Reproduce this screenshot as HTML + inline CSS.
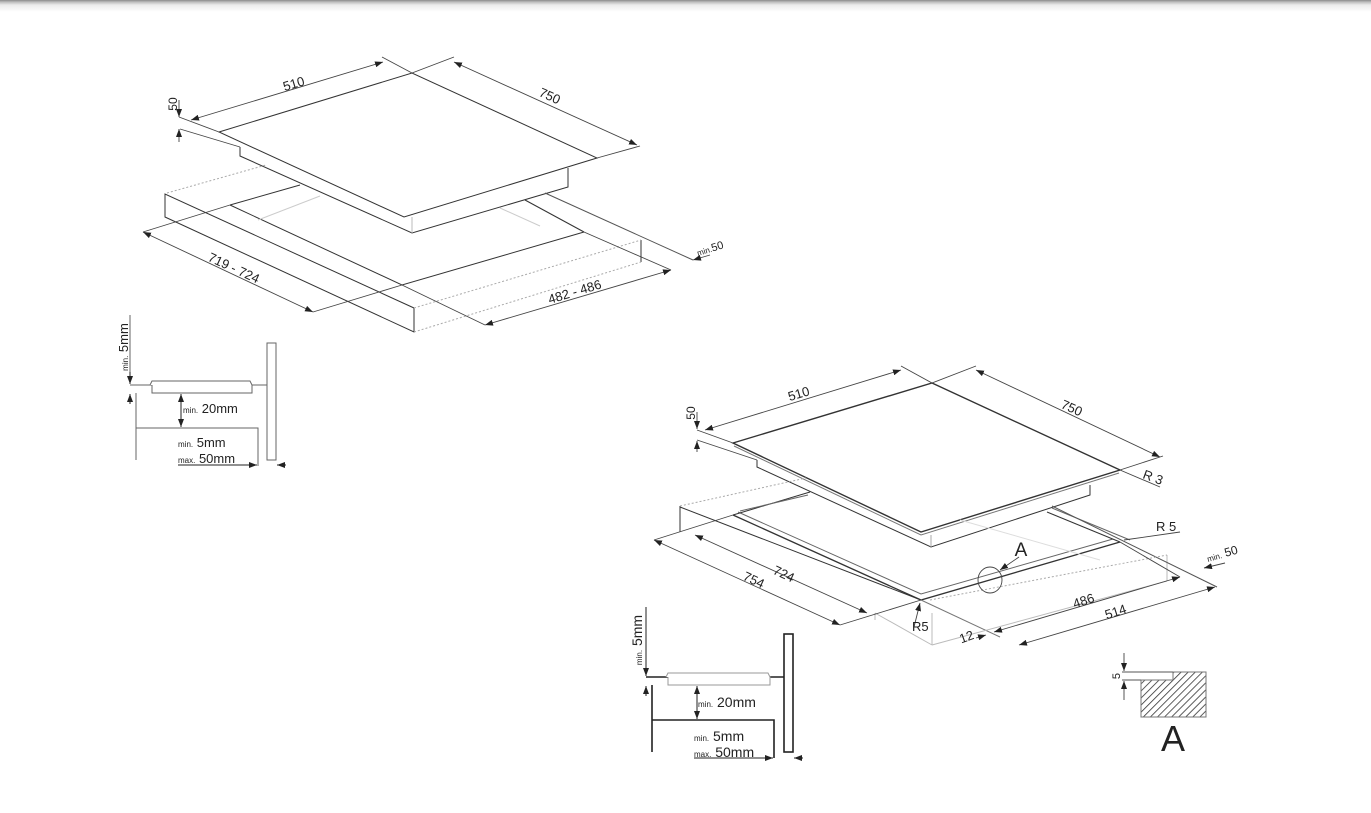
<!DOCTYPE html>
<html><head><meta charset="utf-8"><style>
html,body{margin:0;padding:0;background:#fff;width:1371px;height:813px;overflow:hidden}
.bar{position:absolute;left:0;top:0;width:1371px;height:12px;background:linear-gradient(#8a8a8a 0,#bdbdbd 2px,#ececec 5px,#fff 12px)}
svg{position:absolute;left:0;top:0}
text{font-family:"Liberation Sans",sans-serif;fill:#222}
</style></head><body>
<div class="bar"></div>
<svg width="1371" height="813" viewBox="0 0 1371 813">
<defs>
<marker id="a" markerWidth="8" markerHeight="6" refX="8" refY="3" orient="auto" markerUnits="userSpaceOnUse"><path d="M0,0 L8,3 L0,6z" fill="#222"/></marker>
<marker id="b" markerWidth="8" markerHeight="6" refX="0" refY="3" orient="auto" markerUnits="userSpaceOnUse"><path d="M8,0 L0,3 L8,6z" fill="#222"/></marker>
<pattern id="h" width="5" height="5" patternUnits="userSpaceOnUse" patternTransform="rotate(45)"><line x1="0" y1="0" x2="0" y2="5" stroke="#333" stroke-width="1.6"/></pattern>
</defs>

<!-- TOP DRAWING -->
<g fill="none" stroke="#333" stroke-width="1">
<!-- plate -->
<path d="M219,132 L412,73 L597,158 L404,217 Z"/>
<path d="M240,147 L240,156 L412,233 L568,187 L568,168"/>
<line x1="412" y1="217" x2="412" y2="233" stroke="#bbb"/>
<!-- counter -->
<path d="M165,194 L165,217 L414,332 L414,308 Z"/>
<path d="M230,205 L402,285 L584,232" />
<line x1="230" y1="205" x2="300" y2="185"/>
<line x1="525" y1="200" x2="584" y2="232"/>
<line x1="545" y1="193" x2="693" y2="260" stroke="#555"/>
<line x1="258" y1="220" x2="320" y2="196" stroke="#ccc"/>
<line x1="500" y1="208" x2="540" y2="226" stroke="#ccc"/>
<line x1="641" y1="240" x2="641" y2="262"/>
</g>
<g fill="none" stroke="#aaa" stroke-width="1" stroke-dasharray="2,2">
<line x1="167" y1="193" x2="266" y2="165"/>
<line x1="414" y1="308" x2="641" y2="240"/>
<line x1="414" y1="332" x2="641" y2="262"/>
</g>
<g fill="none" stroke="#444" stroke-width="0.9">
<line x1="179" y1="117" x2="219" y2="132"/>
<line x1="180" y1="129" x2="240" y2="147"/>
<line x1="382" y1="57" x2="412" y2="73"/>
<line x1="454" y1="57" x2="412" y2="73"/>
<line x1="597" y1="158" x2="640" y2="146"/>
<line x1="191" y1="120" x2="383" y2="62" marker-start="url(#b)" marker-end="url(#a)"/>
<line x1="454" y1="62" x2="637" y2="145" marker-start="url(#b)" marker-end="url(#a)"/>
<line x1="179" y1="100" x2="179" y2="117" marker-end="url(#a)"/>
<line x1="179" y1="142" x2="179" y2="129" marker-end="url(#a)"/>
<line x1="143" y1="232" x2="230" y2="205"/>
<line x1="313" y1="312" x2="402" y2="285"/>
<line x1="143" y1="232" x2="313" y2="312" marker-start="url(#b)" marker-end="url(#a)"/>
<line x1="402" y1="285" x2="485" y2="325"/>
<line x1="584" y1="232" x2="671" y2="270"/>
<line x1="485" y1="325" x2="671" y2="270" marker-start="url(#b)" marker-end="url(#a)"/>
<line x1="710" y1="255" x2="693" y2="260" marker-end="url(#a)"/>
</g>
<text x="295" y="88" font-size="13" transform="rotate(-17 295 88)" text-anchor="middle">510</text>
<text x="548" y="100" font-size="13" transform="rotate(24 548 100)" text-anchor="middle">750</text>
<text x="177" y="104" font-size="12" transform="rotate(-90 177 104)" text-anchor="middle">50</text>
<text x="232" y="272" font-size="13" transform="rotate(25 232 272)" text-anchor="middle">719 - 724</text>
<text x="576" y="296" font-size="13" transform="rotate(-17 576 296)" text-anchor="middle">482 - 486</text>
<text x="698" y="256" font-size="11" transform="rotate(-17 698 256)"><tspan font-size="8">min.</tspan>50</text>

<!-- SECTION 1 -->
<g id="sec" fill="none" stroke="#666" stroke-width="1">
<line x1="130" y1="315" x2="130" y2="380" />
<line x1="130" y1="385" x2="267" y2="385"/>
<path d="M150,385 L152,381 L250,381 L252,385 L252,393 L152,393 L152,385" fill="#fff"/>
<line x1="136" y1="393" x2="136" y2="460"/>
<path d="M136,428 L258,428 L258,466"/>
<rect x="267" y="343" width="9" height="117" fill="#fff"/>
<line x1="181" y1="394" x2="181" y2="427" stroke="#222" marker-start="url(#b)" marker-end="url(#a)"/>
<line x1="130" y1="372" x2="130" y2="384" stroke="#222" marker-end="url(#a)"/>
<line x1="130" y1="404" x2="130" y2="394" stroke="#222" marker-end="url(#a)"/>
<line x1="178" y1="465" x2="257" y2="465" stroke="#222" marker-end="url(#a)"/>
<line x1="286" y1="465" x2="277" y2="465" stroke="#222" marker-end="url(#a)"/>
</g>
<text x="128" y="347" font-size="13" transform="rotate(-90 128 347)" text-anchor="middle"><tspan font-size="8">min.</tspan> 5mm</text>
<text x="183" y="413" font-size="13"><tspan font-size="8">min.</tspan> 20mm</text>
<text x="178" y="447" font-size="13"><tspan font-size="8">min.</tspan> 5mm</text>
<text x="178" y="463" font-size="13"><tspan font-size="8">max.</tspan> 50mm</text>

<!-- SECTION 2 -->
<g transform="translate(516,292)" fill="none" stroke="#222" stroke-width="1.6">
<line x1="130" y1="315" x2="130" y2="380" stroke-width="1"/>
<line x1="130" y1="385" x2="268" y2="385"/>
<path d="M150,385 L152,381 L252,381 L254,385 L254,393 L152,393 L152,385" fill="#fff" stroke="#999" stroke-width="1"/>
<line x1="136" y1="393" x2="136" y2="460"/>
<path d="M136,428 L258,428 L258,466" />
<rect x="268" y="342" width="9" height="118" fill="#fff"/>
<line x1="181" y1="394" x2="181" y2="427" stroke-width="1" marker-start="url(#b)" marker-end="url(#a)"/>
<line x1="130" y1="372" x2="130" y2="384" stroke-width="1" marker-end="url(#a)"/>
<line x1="130" y1="404" x2="130" y2="394" stroke-width="1" marker-end="url(#a)"/>
<line x1="178" y1="466" x2="257" y2="466" stroke-width="1" marker-end="url(#a)"/>
<line x1="287" y1="466" x2="278" y2="466" stroke-width="1" marker-end="url(#a)"/>
</g>
<text x="642" y="640" font-size="14" transform="rotate(-90 642 640)" text-anchor="middle"><tspan font-size="8">min.</tspan> 5mm</text>
<text x="698" y="707" font-size="14"><tspan font-size="8">min.</tspan> 20mm</text>
<text x="694" y="741" font-size="14"><tspan font-size="8">min.</tspan> 5mm</text>
<text x="694" y="757" font-size="14"><tspan font-size="8">max.</tspan> 50mm</text>

<!-- BOTTOM RIGHT DRAWING -->
<g fill="none" stroke="#333" stroke-width="1">
<path d="M733,443 L932,383 L1120,470 L921,532 Z" stroke-width="1.4"/>
<path d="M734,446 L921,535 L1119,473" stroke="#777"/>
<path d="M757,460 L757,467 L931,547 L1090,495 L1090,485"/>
<line x1="931" y1="535" x2="931" y2="547" stroke="#aaa"/>
<!-- counter -->
<line x1="680" y1="506" x2="680" y2="532"/>
<line x1="680" y1="507" x2="921" y2="600"/>
<path d="M733,515 L921,600 L1120,542" stroke-width="1.3"/>
<path d="M738,512 L921,594 L1113,539" stroke="#666"/>
<line x1="733" y1="515" x2="810" y2="492"/>
<line x1="740" y1="511" x2="808" y2="495" stroke="#666"/>
<line x1="1047" y1="512" x2="1120" y2="542"/>
<line x1="1052" y1="508" x2="1130" y2="540" stroke="#666"/>
<line x1="921" y1="600" x2="1000" y2="637" stroke="#777"/>
<line x1="875" y1="613" x2="932" y2="645" stroke="#bbb"/>
<line x1="932" y1="613" x2="932" y2="645" stroke="#bbb"/>
<line x1="875" y1="613" x2="875" y2="620" stroke="#bbb"/>
<line x1="932" y1="645" x2="1167" y2="581" stroke="#bbb"/>
<line x1="1167" y1="555" x2="1167" y2="581" stroke="#bbb"/>
<line x1="960" y1="520" x2="1100" y2="560" stroke="#ddd"/>
<line x1="1052" y1="506" x2="1217" y2="587" stroke="#555"/>
</g>
<g fill="none" stroke="#aaa" stroke-width="1" stroke-dasharray="2,2">
<line x1="680" y1="506" x2="806" y2="478"/>
<line x1="930" y1="600" x2="1167" y2="555"/>
</g>
<g fill="none" stroke="#444" stroke-width="0.9">
<line x1="697" y1="430" x2="733" y2="443"/>
<line x1="697" y1="440" x2="757" y2="460"/>
<line x1="901" y1="366" x2="932" y2="383"/>
<line x1="976" y1="366" x2="932" y2="383"/>
<line x1="705" y1="430" x2="901" y2="370" marker-start="url(#b)" marker-end="url(#a)"/>
<line x1="976" y1="370" x2="1160" y2="457" marker-start="url(#b)" marker-end="url(#a)"/>
<line x1="1120" y1="470" x2="1163" y2="456"/>
<line x1="1120" y1="470" x2="1160" y2="487"/>
<line x1="697" y1="412" x2="697" y2="429" marker-end="url(#a)"/>
<line x1="697" y1="452" x2="697" y2="441" marker-end="url(#a)"/>
<line x1="654" y1="540" x2="733" y2="515"/>
<line x1="654" y1="540" x2="840" y2="625" marker-start="url(#b)" marker-end="url(#a)"/>
<line x1="695" y1="535" x2="867" y2="613" marker-start="url(#b)" marker-end="url(#a)"/>
<line x1="840" y1="625" x2="921" y2="600"/>
<line x1="994" y1="632" x2="1180" y2="577" marker-start="url(#b)" marker-end="url(#a)"/>
<line x1="1019" y1="645" x2="1215" y2="587" marker-start="url(#b)" marker-end="url(#a)"/>
<line x1="1120" y1="542" x2="1180" y2="577"/>
<line x1="1124" y1="540" x2="1180" y2="532"/>
<line x1="914" y1="627" x2="920" y2="603" marker-end="url(#a)"/>
<line x1="976" y1="638" x2="986" y2="635" marker-end="url(#a)"/>
<line x1="1225" y1="563" x2="1204" y2="568" marker-end="url(#a)"/>
<line x1="1019" y1="557" x2="1000" y2="570" marker-end="url(#a)"/>
<ellipse cx="990" cy="580" rx="12" ry="13"/>
</g>
<text x="800" y="398" font-size="13" transform="rotate(-17 800 398)" text-anchor="middle">510</text>
<text x="1070" y="412" font-size="13" transform="rotate(24 1070 412)" text-anchor="middle">750</text>
<text x="695" y="413" font-size="12" transform="rotate(-90 695 413)" text-anchor="middle">50</text>
<text x="1142" y="478" font-size="13" transform="rotate(20 1142 478)">R 3</text>
<text x="1156" y="531" font-size="13">R 5</text>
<text x="1208" y="562" font-size="12" transform="rotate(-16 1208 562)"><tspan font-size="8">min.</tspan> 50</text>
<text x="1021" y="556" font-size="19" text-anchor="middle">A</text>
<text x="782" y="578" font-size="13" transform="rotate(25 782 578)" text-anchor="middle">724</text>
<text x="752" y="584" font-size="13" transform="rotate(25 752 584)" text-anchor="middle">754</text>
<text x="1085" y="605" font-size="13" transform="rotate(-18 1085 605)" text-anchor="middle">486</text>
<text x="1117" y="616" font-size="13" transform="rotate(-18 1117 616)" text-anchor="middle">514</text>
<text x="968" y="641" font-size="13" transform="rotate(-20 968 641)" text-anchor="middle">12</text>
<text x="912" y="631" font-size="13">R5</text>

<!-- DETAIL A -->
<path d="M1141,680 L1173,680 L1173,672 L1206,672 L1206,717 L1141,717 Z" fill="url(#h)" stroke="#777" stroke-width="1"/>
<g stroke="#555" stroke-width="1" fill="none">
<line x1="1122" y1="672" x2="1173" y2="672"/>
<line x1="1122" y1="680" x2="1141" y2="680"/>
<line x1="1124" y1="653" x2="1124" y2="671" marker-end="url(#a)"/>
<line x1="1124" y1="700" x2="1124" y2="681" marker-end="url(#a)"/>
</g>
<text x="1120" y="676" font-size="11" transform="rotate(-90 1120 676)" text-anchor="middle">5</text>
<text x="1173" y="751" font-size="36" text-anchor="middle">A</text>
</svg>
</body></html>
